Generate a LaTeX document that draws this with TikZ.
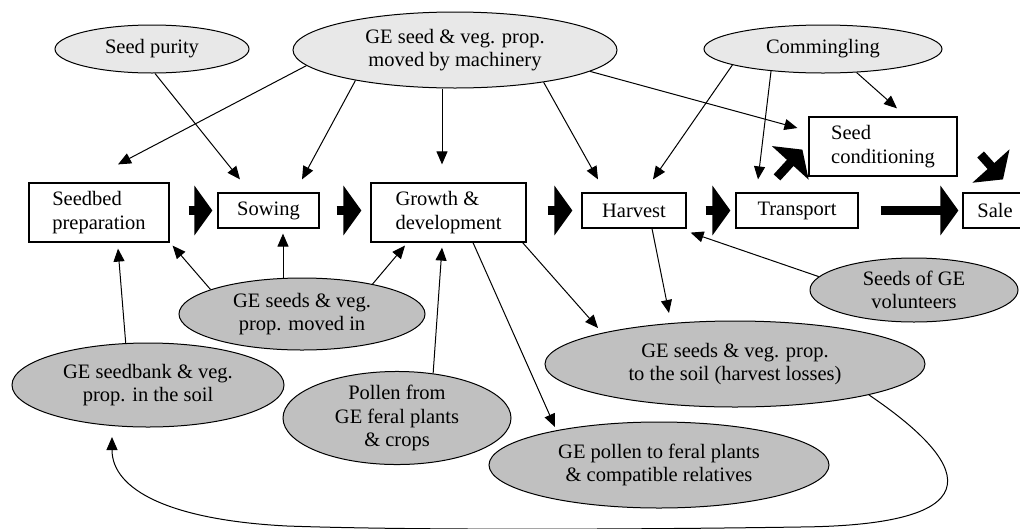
\documentclass[tikz,border=0pt]{standalone}
\usepackage{fontspec}
\setmainfont{Liberation Serif}
\usetikzlibrary{arrows.meta,shapes.geometric,calc}
\definecolor{lightg}{HTML}{E8E8E8}
\definecolor{darkg}{HTML}{C0C0C0}
\tikzset{
  lbl/.style={font=\fontsize{20.5pt}{23.5pt}\selectfont},
  box/.style={lbl, draw, line width=1.2pt, rectangle, inner sep=0pt, align=left},
  lell/.style={lbl, draw, line width=1pt, ellipse, fill=lightg, inner sep=0pt, align=center},
  dell/.style={lbl, draw, line width=1pt, ellipse, fill=darkg, inner sep=0pt, align=center},
  arr/.style={line width=1pt, -{Triangle[length=13pt,width=11pt]}},
  blk/.style={line width=9pt, -{Triangle[length=18pt,width=49pt]}},
}
\begin{document}
\begin{tikzpicture}[x=1pt,y=-1pt]
\useasboundingbox (0,0) rectangle (1020,528);

% process boxes
\node[box, minimum width=140pt, minimum height=59pt] (seedbed) at (99,212.5) {Seedbed\\preparation};
\node[box, minimum width=101pt, minimum height=35pt] (sowing) at (268.5,210.5) {Sowing};
\node[box, minimum width=155pt, minimum height=59pt] (growth) at (448.5,212.5) {Growth \&\\development};
\node[box, minimum width=104pt, minimum height=35pt] (harvest) at (634,210.5) {Harvest};
\node[box, minimum width=122pt, minimum height=35pt] (transport) at (797,210.5) {Transport};
\node[box, minimum width=148pt, minimum height=59pt] (cond) at (883,146.5) {Seed\\conditioning};
\node[box, minimum width=64pt, minimum height=35pt] (sale) at (995,210.5) {Sale};

% light ellipses
\node[lell, minimum width=194pt, minimum height=48pt] (purity) at (152,49) {Seed purity};
\node[lell, minimum width=324pt, minimum height=76pt] (mach) at (455,50) {GE seed \& veg. prop.\\moved by machinery};
\node[lell, minimum width=238pt, minimum height=48pt] (comm) at (823,49) {Commingling};

% dark ellipses
\node[dell, minimum width=246pt, minimum height=72pt] (movedin) at (302,314) {GE seeds \& veg.\\prop. moved in};
\node[dell, minimum width=272pt, minimum height=84pt] (seedbank) at (148,385) {GE seedbank \& veg.\\prop. in the soil};
\node[dell, minimum width=228pt, minimum height=90pt] (pollen) at (397,418) {Pollen from\\GE feral plants\\\& crops};
\node[dell, minimum width=208pt, minimum height=64pt] (vol) at (914,290) {Seeds of GE\\volunteers};
\node[dell, minimum width=380pt, minimum height=86pt] (losses) at (735,364) {GE seeds \& veg. prop.\\to the soil (harvest losses)};
\node[dell, minimum width=340pt, minimum height=86pt] (feral) at (659,465) {GE pollen to feral plants\\\& compatible relatives};

% block arrows along the chain
\draw[blk] ([xshift=19pt]seedbed.east |- sowing.west) -- ([xshift=-5pt]sowing.west);
\draw[blk] ([xshift=17pt]sowing.east) -- ([xshift=-9pt]growth.west |- sowing.east);
\draw[blk] ([xshift=21pt]growth.east |- harvest.west) -- ([xshift=-9pt]harvest.west);
\draw[blk] ([xshift=19pt]harvest.east) -- ([xshift=-5pt]transport.west);
\draw[blk] ([xshift=22pt]transport.east) -- ([xshift=-4pt]sale.west);
\coordinate (d1s) at ($(transport.north)+(-20,-15)$);
\coordinate (d1t) at ($(cond.south west)+(-6,-27)$);
\draw[blk] (d1s) -- (d1t);
\coordinate (d2s) at ($(cond.east)+(23,8)$);
\coordinate (d2t) at ($(sale.north)+(8,-13)$);
\draw[blk] (d2s) -- (d2t);

% thin connectors from top ellipses
\draw[arr] (mach.186.5) -- ($(seedbed.north)+(19,-18)$);
\draw[arr] (purity.277) -- ($(sowing.north)+(-28.5,-13)$);
\draw[arr] (mach.197) -- ($(sowing.north)+(33.5,-13)$);
\coordinate (g1) at ($(growth.north)+(-6.5,-18)$);
\draw[arr] (g1 |- mach.south) -- (g1);
\draw[arr] (mach.340) -- ($(harvest.north)+(-36,-13)$);
\draw[arr] (mach.351.3) -- ($(cond.west)+(-11,-18.5)$);
\draw[arr] (comm.190.6) -- ($(harvest.north)+(19,-13)$);
\draw[arr] (comm.203) -- ($(transport.north)+(-39,-13)$);
\draw[arr] (comm.325) -- ($(cond.north)+(14,-8)$);

% connectors from lower ellipses
\draw[arr] (seedbank.118.7) -- ($(seedbed.south)+(19,6)$);
\draw[arr] (movedin.165) -- ($(seedbed.south east)+(3,3)$);
\coordinate (s1) at ($(sowing.south)+(14.5,5)$);
\draw[arr] (s1 |- movedin.north) -- (s1);
\draw[arr] (movedin.23) -- ($(growth.south)+(-43.5,3)$);
\draw[arr] (pollen.51) -- ($(growth.south)+(-6.5,5)$);
\draw[arr] ($(growth.south)+(24.5,0)$) -- ($(feral.center)+(-104,-38)$);
\draw[arr] ($(growth.south east)+(-4,0)$) -- ($(losses.center)+(-137,-36)$);
\draw[arr] ($(harvest.south)+(18,0)$) -- ($(losses.center)+(-66,-51)$);
\draw[arr] (vol.172.7) -- ($(harvest.south east)+(4,4)$);

% feedback curve
\coordinate (c1) at (800,527);
\coordinate (c2) at (287,526);
\draw[arr] (losses.347.3) .. controls (965,460) and (1005,525) .. (c1)
  .. controls (600,530) and (400,530) .. (c2)
  .. controls (170,520) and (112,490) .. ($(seedbank.center)+(-36,52)$);
\end{tikzpicture}
\end{document}
